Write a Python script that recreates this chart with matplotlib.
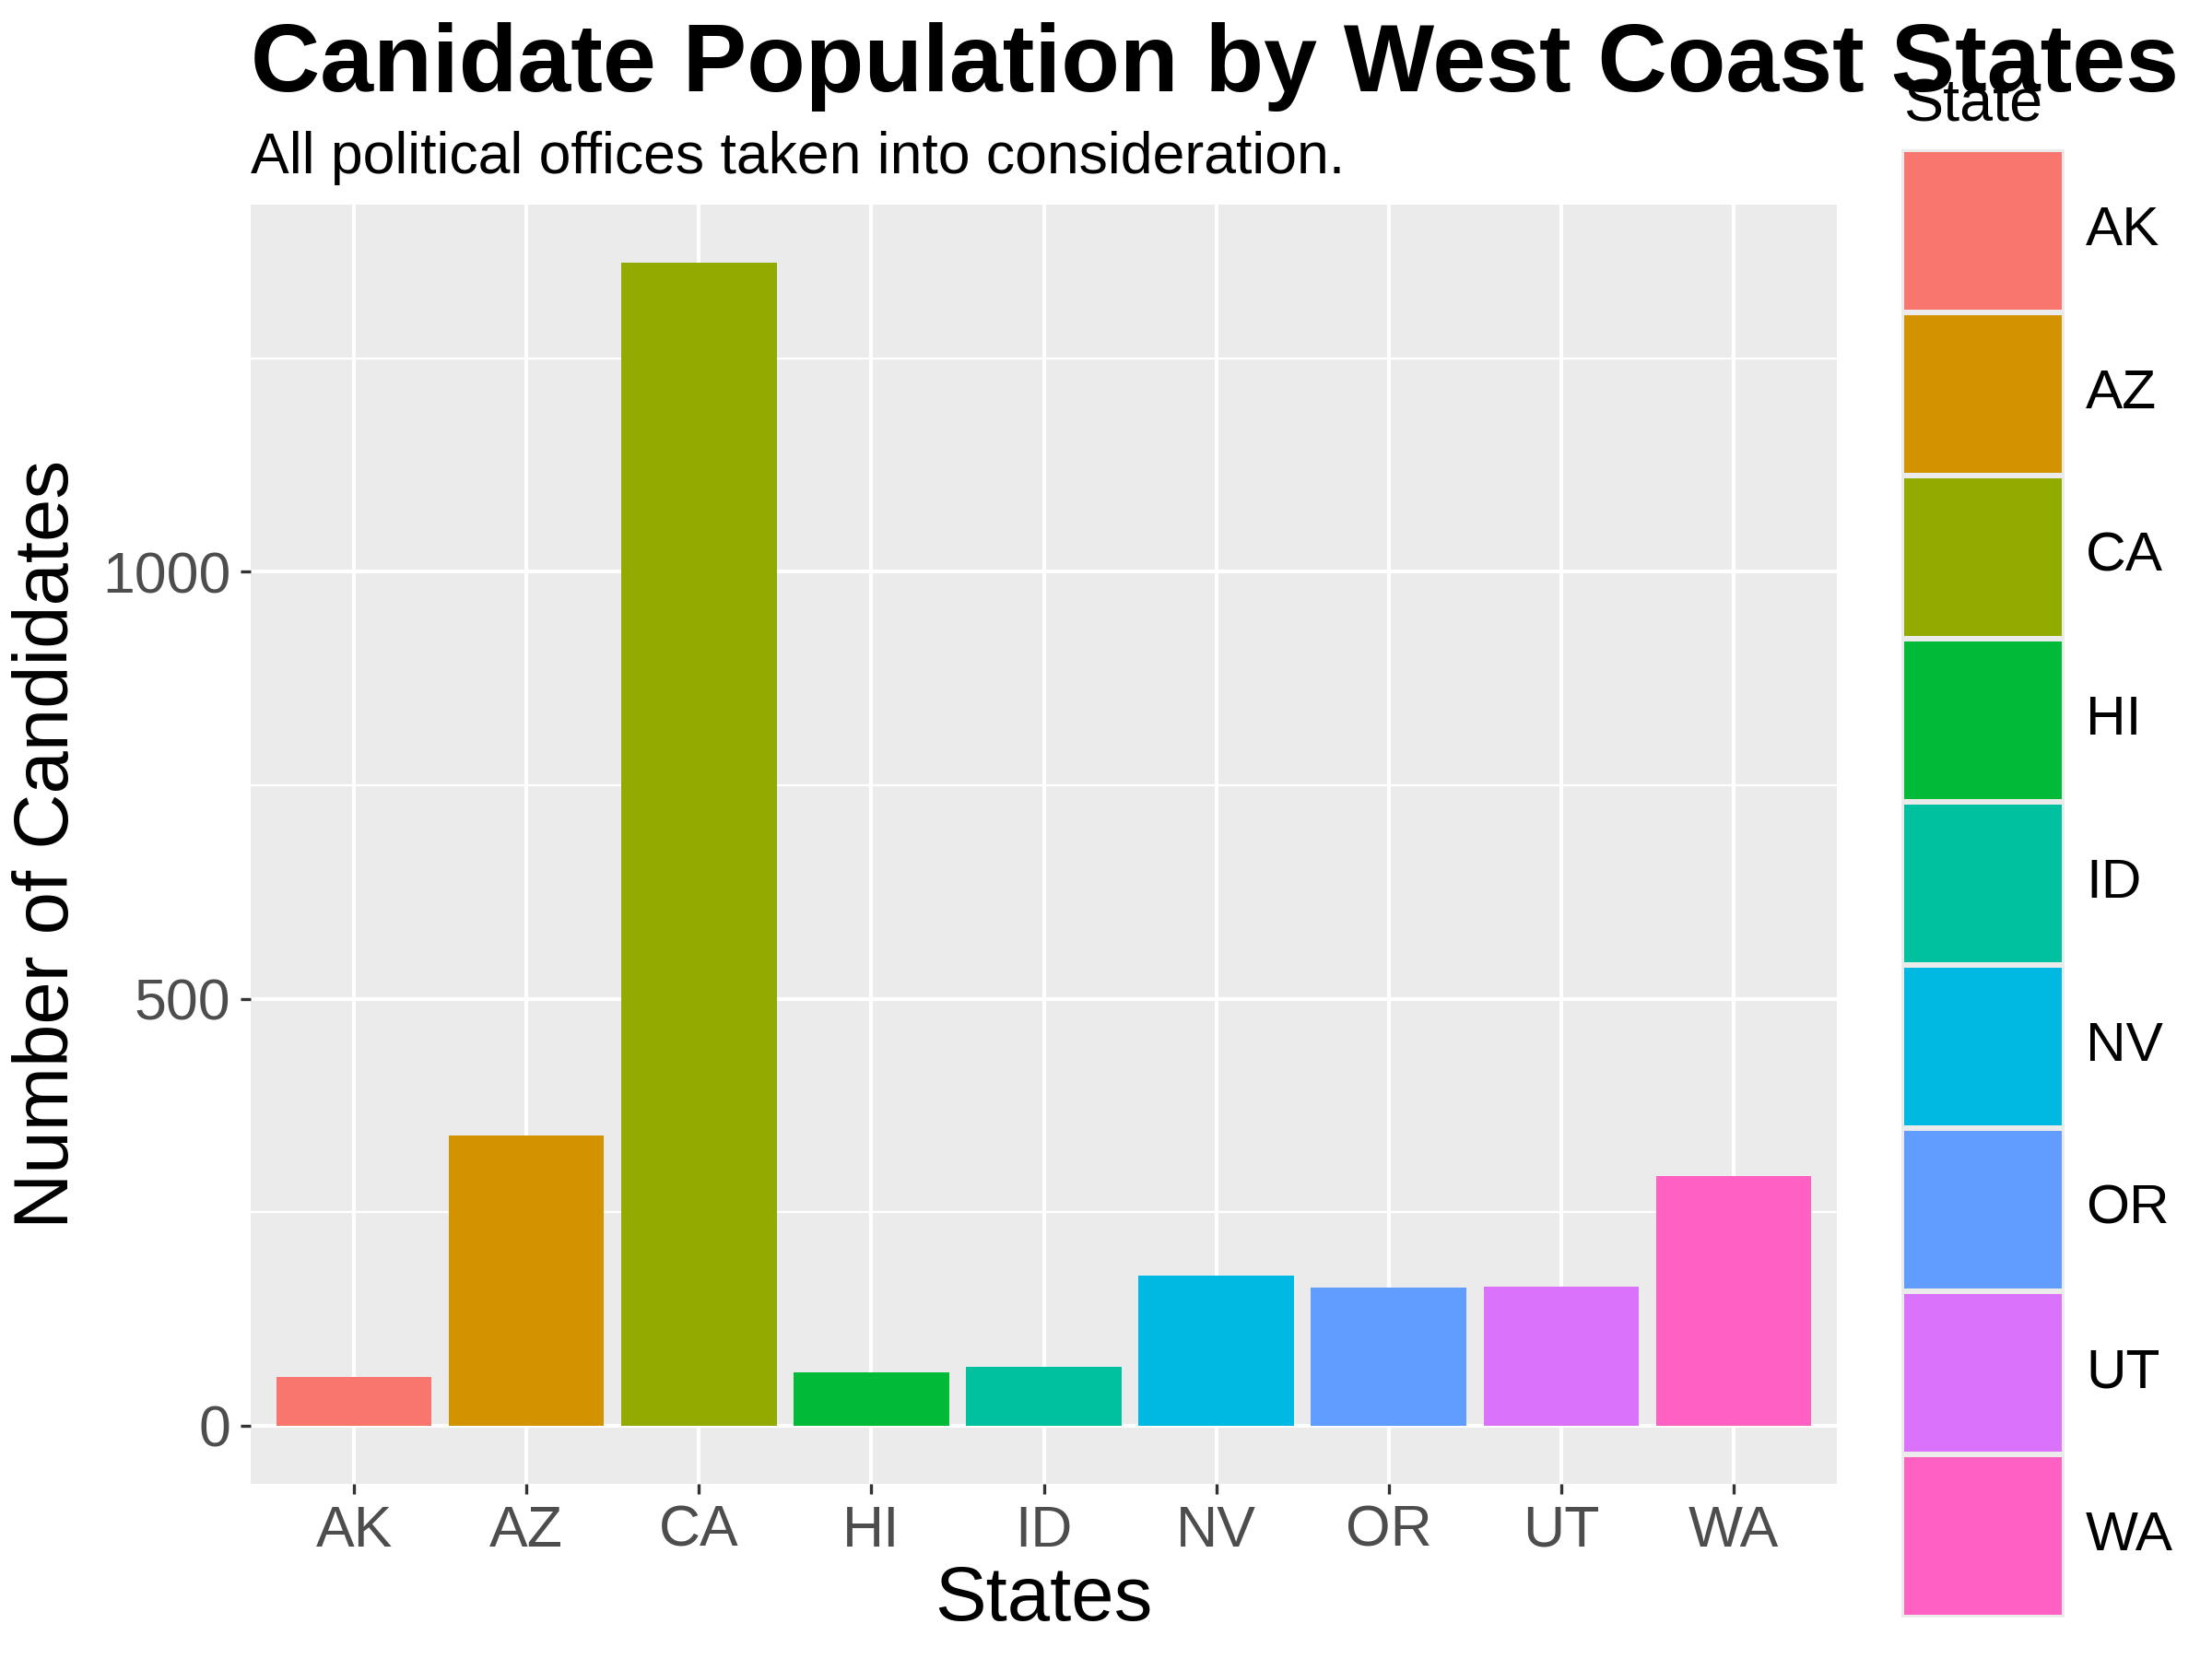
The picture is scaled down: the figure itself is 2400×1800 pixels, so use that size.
import matplotlib
matplotlib.use("Agg")
import matplotlib.pyplot as plt
import matplotlib.patches as patches
from matplotlib.ticker import MultipleLocator

plt.rcParams['font.family'] = ['Liberation Sans', 'DejaVu Sans']

# data
states = ['AK', 'AZ', 'CA', 'HI', 'ID', 'NV', 'OR', 'UT', 'WA']
counts = [57, 340, 1362, 63, 69, 176, 162, 163, 292]
state_colors = ['#F8766D', '#D39200', '#93AA00', '#00BA38', '#00C19F',
                '#00B9E3', '#619CFF', '#DB72FB', '#FF61C3']

title = 'Canidate Population by West Coast States'
subtitle = 'All political offices taken into consideration.'

W, H = 2400, 1800
fig = plt.figure(figsize=(8, 6), dpi=300)

# panel, placed in pixel units
left, right, top, bottom = 272, 1993, 222, 1610
ax = fig.add_axes([left / W, 1 - bottom / H, (right - left) / W, (bottom - top) / H])
ax.set_facecolor('#EBEBEB')
for s in ax.spines.values():
    s.set_visible(False)

x = list(range(len(states)))
ax.bar(x, counts, width=0.9, color=state_colors, zorder=3)

ymax = max(counts)
ax.set_xlim(-0.6, len(states) - 0.4)
ax.set_ylim(-0.05 * ymax, 1.05 * ymax)
ax.set_xticks(x)
ax.set_xticklabels(states)
ax.yaxis.set_major_locator(MultipleLocator(500))
ax.yaxis.set_minor_locator(MultipleLocator(250))

ax.grid(which='major', color='white', linewidth=1.0, zorder=1)
ax.grid(which='minor', axis='y', color='white', linewidth=0.55, zorder=1)
ax.set_axisbelow(True)
ax.tick_params(which='major', length=2.6, width=0.8, color='#333333',
               labelsize=15, labelcolor='#4D4D4D', pad=2.6)
ax.tick_params(which='minor', length=0)

# axis titles
fig.text(52 / W, 1 - (top + bottom) / 2 / H, 'Number of Candidates', rotation=90,
         ha='center', va='center', fontsize=20)
fig.text((left + right) / 2 / W, 1 - 1758 / H, 'States', ha='center', va='baseline',
         fontsize=20)

# title and subtitle
fig.text(left / W, 1 - 99 / H, title, ha='left', va='baseline', fontsize=25,
         fontweight='bold')
fig.text(left / W, 1 - 188 / H, subtitle, ha='left', va='baseline', fontsize=15)

# legend drawn in a pixel-space overlay
lax = fig.add_axes([0, 0, 1, 1])
lax.set_xlim(0, W)
lax.set_ylim(H, 0)
lax.axis('off')
key_x, key_w = 2063, 177
key_top, key_h = 162, 177
lax.add_patch(patches.Rectangle((key_x, key_top), key_w, key_h * len(states),
                                facecolor='#EBEBEB', edgecolor='none'))
for i, (st, c) in enumerate(zip(states, state_colors)):
    y0 = key_top + i * key_h
    lax.add_patch(patches.Rectangle((key_x + 3, y0 + 3), key_w - 6, key_h - 6,
                                    facecolor=c, edgecolor='none'))
    lax.text(2263, y0 + key_h / 2, st, ha='left', va='center', fontsize=14.5)
lax.text(2065, 131, 'State', ha='left', va='baseline', fontsize=15.5)

fig.savefig('out.png', dpi=300)
